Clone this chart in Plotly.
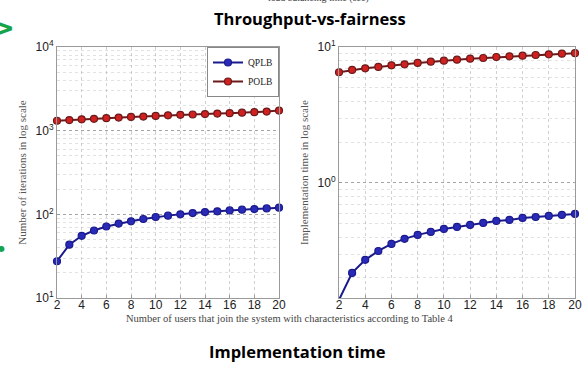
import numpy as np
import plotly.graph_objects as go

users = list(range(2, 21))

# Left panel: number of iterations
qplb_iter = [27.5, 43.4, 55.4, 64.1, 71.5, 77.6, 82.6, 87.9, 92.9, 96.5,
             100, 103.6, 106.5, 108.5, 111.5, 113.7, 115.5, 117.8, 120]
polb_iter = [1313, 1340, 1365, 1385, 1410, 1435, 1460, 1475, 1500, 1525,
             1545, 1560, 1580, 1600, 1620, 1640, 1665, 1690, 1740]

# Right panel: implementation time
qplb_time = [0.138, 0.218, 0.272, 0.316, 0.356, 0.388, 0.415, 0.436, 0.459, 0.475,
             0.491, 0.508, 0.526, 0.535, 0.553, 0.562, 0.572, 0.582, 0.592]
polb_time = [6.52, 6.78, 6.97, 7.13, 7.33, 7.46, 7.63, 7.80, 7.93, 8.07,
             8.20, 8.30, 8.44, 8.54, 8.63, 8.73, 8.84, 8.93, 9.0]

x_ticks = [2, 4, 6, 8, 10, 12, 14, 16, 18, 20]
left_yticks = [10, 100, 1000, 10000]
left_ytext = ["10<sup>1</sup>", "10<sup>2</sup>", "10<sup>3</sup>", "10<sup>4</sup>"]
right_yticks = [1, 10]
right_ytext = ["10<sup>0</sup>", "10<sup>1</sup>"]

W, H = 587, 366
BLUE_LINE = "#1a1a8c"
BLUE_FILL = "#2a2ab8"
RED_LINE = "#6a1a1a"
RED_FILL = "#d02020"

fig = go.Figure()

def add_series(y, name, xa, ya, fill, line, showlegend):
    fig.add_trace(go.Scatter(
        x=users, y=y, name=name, mode="lines+markers",
        xaxis=xa, yaxis=ya, showlegend=showlegend, cliponaxis=False,
        line=dict(color=line, width=2),
        marker=dict(symbol="circle", size=7, color=fill,
                    line=dict(color=line, width=1.2)),
    ))

add_series(qplb_iter, "QPLB", "x", "y", BLUE_FILL, BLUE_LINE, True)
add_series(polb_iter, "POLB", "x", "y", RED_FILL, RED_LINE, True)
add_series(qplb_time, "QPLB", "x2", "y2", BLUE_FILL, BLUE_LINE, False)
add_series(polb_time, "POLB", "x2", "y2", RED_FILL, RED_LINE, False)

grid = "rgba(170,170,170,0.55)"
tickfont = dict(family="Liberation Sans, Arial, sans-serif", size=12, color="#222")
serif = "Liberation Serif, Times New Roman, serif"

def xaxis_cfg(domain, anchor):
    return dict(domain=domain, anchor=anchor, range=[2, 20], tickvals=x_ticks,
                showgrid=True, gridcolor=grid, griddash="dot", gridwidth=1,
                showline=True, linecolor="#9a9a9a", linewidth=1, mirror=True,
                ticks="inside", ticklen=3, tickcolor="#9a9a9a",
                ticklabelstandoff=-4,
                tickfont=tickfont, zeroline=False, automargin=False)

def yaxis_cfg(domain, anchor, rng, tickvals, ticktext, title):
    return dict(domain=domain, anchor=anchor, type="log", range=rng,
                tickvals=tickvals, ticktext=ticktext,
                showgrid=True, gridcolor="rgba(140,140,140,0.7)", griddash="dot",
                minor=dict(showgrid=True, gridcolor="rgba(190,190,190,0.45)",
                           griddash="dot", dtick="D1", ticks=""),
                showline=True, linecolor="#9a9a9a", linewidth=1, mirror=True,
                ticks="inside", ticklen=3, tickcolor="#9a9a9a",
                tickfont=tickfont, zeroline=False, automargin=False,
                title=dict(text=title, font=dict(family=serif, size=11, color="#555"),
                           standoff=6))

y_dom = [(H - 298) / H, (H - 47) / H]
fig.update_layout(
    width=W, height=H,
    margin=dict(l=0, r=0, t=0, b=0, autoexpand=False),
    paper_bgcolor="white", plot_bgcolor="white",
    xaxis=xaxis_cfg([57 / W, 279 / W], "y"),
    yaxis=yaxis_cfg(y_dom, "x", [1, 4], left_yticks, left_ytext,
                    "Number of iterations in log scale"),
    xaxis2=xaxis_cfg([339 / W, 575 / W], "y2"),
    yaxis2=yaxis_cfg(y_dom, "x2", [np.log10(0.1425), 1], right_yticks, right_ytext,
                     "Implementation time in log scale"),
    showlegend=True,
    legend=dict(x=279 / W, xanchor="right", y=(H - 47) / H, yanchor="top",
                bgcolor="white", bordercolor="#888", borderwidth=1,
                font=dict(family=serif, size=9.5, color="#222"),
                tracegroupgap=0, itemwidth=30),
)

annotations = [
    dict(text="<b>Throughput-vs-fairness</b>", x=310 / W, y=(H - 18) / H,
         font=dict(family="Open Sans, sans-serif", size=16.5, color="black"),
         yanchor="middle"),
    dict(text="<b>Implementation time</b>", x=298 / W, y=(H - 351) / H,
         font=dict(family="Open Sans, sans-serif", size=16.5, color="black"),
         yanchor="middle"),
    dict(text="Number of users that join the system with characteristics according to Table 4",
         x=290 / W, y=(H - 318) / H, yanchor="middle",
         font=dict(family=serif, size=10.5, color="#444")),
    dict(text="load balancing time (sec)", x=318 / W, y=(H + 2) / H, yanchor="middle",
         font=dict(family=serif, size=10, color="#444")),
    dict(text="<b>&gt;</b>", x=2 / W, y=(H - 28) / H, yanchor="middle", xanchor="center",
         font=dict(family="DejaVu Sans", size=30, color="#16a34a")),
    dict(text="●", x=1 / W, y=(H - 248) / H, yanchor="middle", xanchor="center",
         font=dict(family="DejaVu Sans", size=8, color="#16a34a")),
]
for a in annotations:
    a.update(xref="paper", yref="paper", showarrow=False)
fig.update_layout(annotations=annotations)

fig.write_html("out.html", config={"displayModeBar": False},
               post_script="document.body.style.margin='0';document.body.style.overflow='hidden';")
